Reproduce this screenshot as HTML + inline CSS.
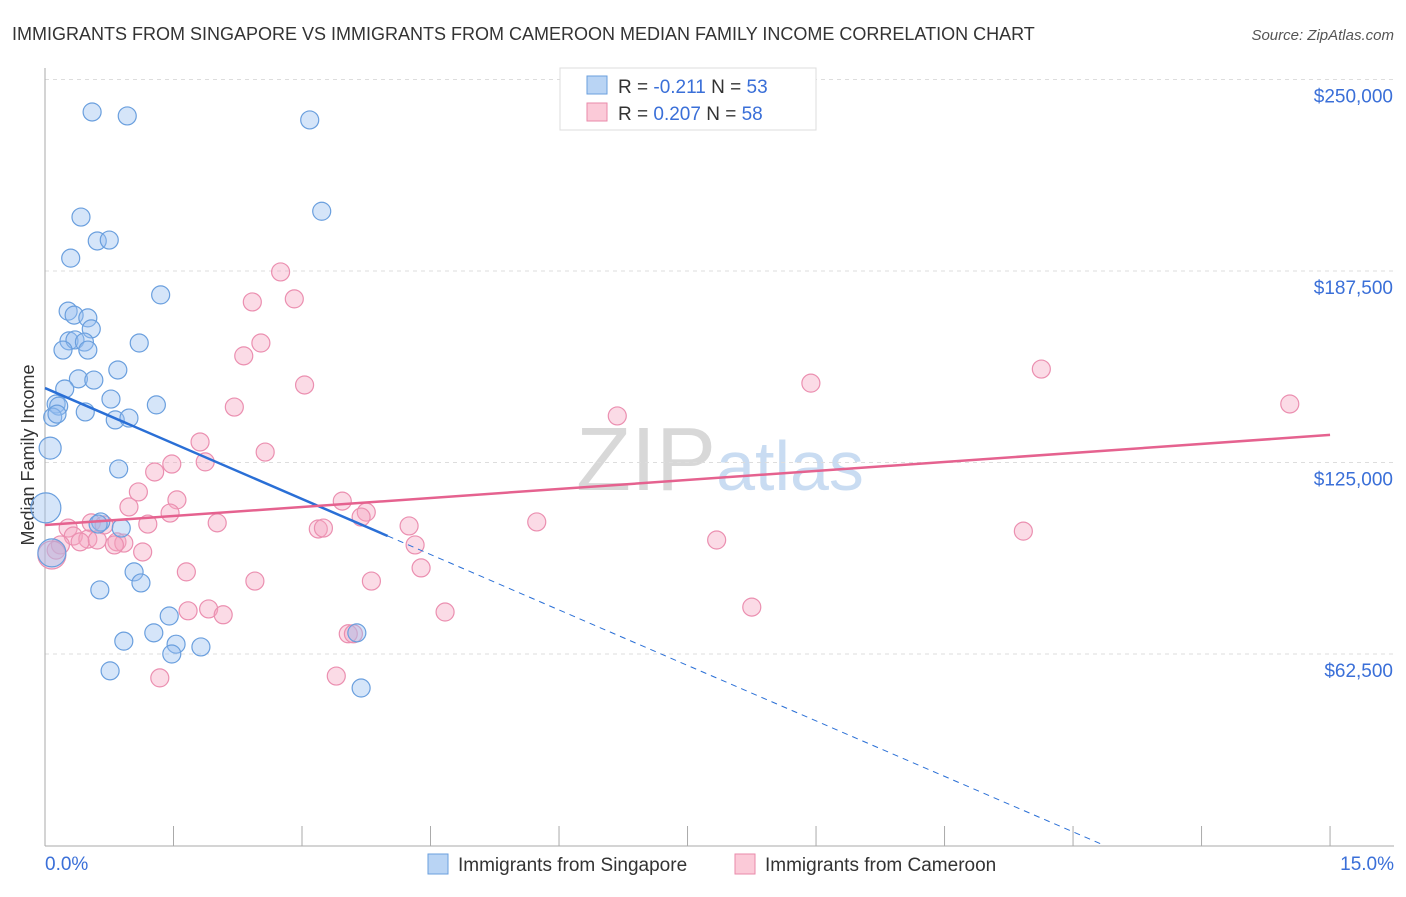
<!DOCTYPE html>
<html><head><meta charset="utf-8"><style>
body{margin:0;background:#fff;font-family:"Liberation Sans",sans-serif;}
svg text{font-family:"Liberation Sans",sans-serif;}
</style></head><body>
<svg id="c" width="1406" height="892">
<text x="12" y="40" font-size="18" fill="#333">IMMIGRANTS FROM SINGAPORE VS IMMIGRANTS FROM CAMEROON MEDIAN FAMILY INCOME CORRELATION CHART</text>
<text x="1394" y="40" font-size="15" fill="#555" font-style="italic" text-anchor="end">Source: ZipAtlas.com</text>
<text x="34" y="455" font-size="18" fill="#333" text-anchor="middle" transform="rotate(-90 34 455)">Median Family Income</text>
<text x="720" y="490" font-size="90" fill="#dde3ea" text-anchor="middle" font-family="Liberation Serif"><tspan fill="#d8d8d8">ZIP</tspan><tspan fill="#c9dcf2" font-family="Liberation Sans" font-size="70">atlas</tspan></text>
<g id="grid"></g><g id="axes"></g><g id="marks"></g>
<g>
<rect x="560" y="68" width="256" height="62" fill="#fff" stroke="#ddd"/>
<rect x="587" y="76" width="20" height="18" fill="#b9d4f4" stroke="#6a9fde"/>
<rect x="587" y="103" width="20" height="18" fill="#fbcad8" stroke="#e98aaa"/>
<text x="618" y="93" font-size="19" fill="#333">R = <tspan fill="#3a6fd8">-0.211</tspan>   N = <tspan fill="#3a6fd8">53</tspan></text>
<text x="618" y="120" font-size="19" fill="#333">R = <tspan fill="#3a6fd8"> 0.207</tspan>   N = <tspan fill="#3a6fd8">58</tspan></text>
</g>
<g>
<rect x="428" y="854" width="20" height="20" fill="#b9d4f4" stroke="#6a9fde"/>
<text x="458" y="871" font-size="19" fill="#333">Immigrants from Singapore</text>
<rect x="735" y="854" width="20" height="20" fill="#fbcad8" stroke="#e98aaa"/>
<text x="765" y="871" font-size="19" fill="#333">Immigrants from Cameroon</text>
</g>
</svg>
<script>
const blueX=[.55,.96,3.09,3.23,.42,.61,.75,.30,1.35,.27,.34,.50,.54,.28,.35,.46,.21,.50,1.10,.85,.39,.57,.23,.77,.13,.16,.09,.14,.47,1.30,.82,.98,.06,.86,.01,.65,.62,.89,1.04,1.12,.64,1.45,1.27,.92,1.53,1.48,1.82,3.64,.76,3.69,.08];
const blueY=[239.4,238.1,236.8,207.0,205.1,197.3,197.6,191.7,179.7,174.4,173.1,172.2,168.6,164.7,165.0,164.3,161.7,161.7,164.0,155.2,152.3,151.9,149.0,145.7,144.1,143.4,139.8,140.8,141.5,143.8,138.9,139.5,129.7,122.9,110.2,105.6,104.9,103.6,89.3,85.7,83.4,74.9,69.4,66.7,65.7,62.5,64.8,69.4,57.0,51.4,95.5];
const blueR=[9,9,9,9,9,9,9,9,9,9,9,9,9,9,9,9,9,9,9,9,9,9,9,9,9,9,9,9,9,9,9,9,11,9,15,9,9,9,9,9,9,9,9,9,9,9,9,9,9,9,14];
const pinkX=[2.75,2.91,2.42,2.52,2.32,3.03,2.21,1.81,2.57,1.87,1.48,1.28,1.09,1.54,.98,1.46,1.20,2.01,.27,.54,.69,.33,.50,.41,.61,.84,.92,.81,.18,.13,.08,1.14,1.65,2.45,3.81,4.39,4.32,4.25,3.47,3.75,3.69,3.19,3.25,1.67,1.91,2.08,3.54,3.60,1.34,3.40,4.67,5.74,6.68,8.94,11.63,14.53,7.84,8.25,11.42];
const pinkY=[187.2,178.4,177.4,164.0,159.8,150.3,143.1,131.7,128.4,125.2,124.5,121.9,115.4,112.8,110.5,108.5,104.9,105.3,103.6,105.3,104.6,101.0,100.0,99.1,99.7,99.1,98.7,98.1,98.1,96.4,94.8,95.8,89.3,86.3,86.3,90.6,98.1,104.3,112.4,108.8,107.2,103.3,103.6,76.6,77.2,75.3,69.1,69.1,54.7,55.3,76.2,105.6,140.2,150.9,155.5,144.1,99.7,77.8,102.6];
const yTicks=[62.5,125,187.5,250];
const yTickLabels=["$62,500","$125,000","$187,500","$250,000"];
const xTicks=[0,1.5,3,4.5,6,7.5,9,10.5,12,13.5,15];
const blueTrend=[149.3,-12.07]; // intercept, slope
const pinkTrend=[104.6,134.0]; // y at 0%, y at 15%
const NS="http://www.w3.org/2000/svg";
const X=v=>45+v*85.67, Y=v=>845.5-v/0.32637;
function mk(tag,at,parent){const e=document.createElementNS(NS,tag);for(const k in at)e.setAttribute(k,at[k]);document.getElementById(parent).appendChild(e);return e;}
yTicks.forEach((t,i)=>{
 const l=mk('line',{x1:45,x2:1394,y1:Y(t),y2:Y(t),stroke:'#ddd','stroke-dasharray':'4,4'},'grid');
 
 
 const tx=mk('text',{x:1393,y:Y(t)+23,'font-size':19,fill:'#3a6fd8','text-anchor':'end'},'axes');
 tx.textContent=yTickLabels[i];
 
 
});
const ax=mk('line',{x1:45,x2:45,y1:68,y2:846,stroke:'#aaa'},'axes');


const bx=mk('line',{x1:45,x2:1394,y1:846,y2:846,stroke:'#aaa'},'axes');


xTicks.forEach(t=>{const l=mk('line',{x1:X(t),x2:X(t),y1:826,y2:846,stroke:'#aaa'},'axes');
 
 });
const x0=mk('text',{x:45,y:870,'font-size':19,fill:'#3a6fd8'},'axes');x0.textContent='0.0%';


const x1=mk('text',{x:1394,y:870,'font-size':19,fill:'#3a6fd8','text-anchor':'end'},'axes');x1.textContent='15.0%';


pinkX.forEach((v,i)=>{const c=mk('circle',{cx:X(v),cy:Y(pinkY[i]),r:i==30?14:9,fill:'rgba(246,166,192,0.4)',stroke:'#eb8fb0','stroke-width':1.2},'marks');
 
 });
blueX.forEach((v,i)=>{const c=mk('circle',{cx:X(v),cy:Y(blueY[i]),r:blueR[i],fill:'rgba(150,190,240,0.4)',stroke:'#6a9fde','stroke-width':1.2},'marks');
 
 });
const bEnd=4.0, bZero=-blueTrend[0]/blueTrend[1];
const bl=mk('line',{x1:X(0),y1:Y(blueTrend[0]),x2:X(bEnd),y2:Y(blueTrend[0]+blueTrend[1]*bEnd),stroke:'#2a6fd6','stroke-width':2.5},'marks');


const bd=mk('line',{x1:X(bEnd),y1:Y(blueTrend[0]+blueTrend[1]*bEnd),x2:X(bZero),y2:Y(0),stroke:'#2a6fd6','stroke-width':1,'stroke-dasharray':'6,5'},'marks');


const pl=mk('line',{x1:X(0),y1:Y(pinkTrend[0]),x2:X(15),y2:Y(pinkTrend[1]),stroke:'#e5628f','stroke-width':2.5},'marks');


</script>
</body></html>
